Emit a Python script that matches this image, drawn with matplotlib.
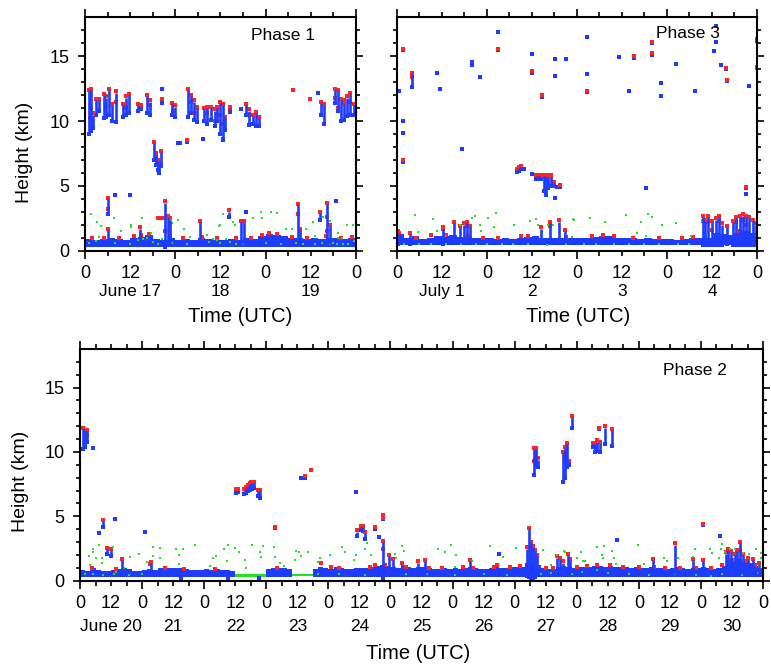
import numpy as np
import matplotlib.pyplot as plt

plt.rcParams['font.family'] = ['Liberation Sans', 'DejaVu Sans']

BLUE = '#1e3cff'
RED = '#ff2424'
GREEN = '#22e022'

# All times are hours from 00 UTC of the first day of each phase, heights in km.

# ---------------- Phase 1 (June 17-19) ----------------
p1_days = ['June 17', '18', '19']
p1_band_base = 0.3
# band top, 2-hour bins
p1_band_top = [0.9, 0.85, 0.9, 1.0, 0.9, 0.85, 1.0, 1.05, 1.2, 0.9, 0.85, 1.0,
               0.85, 0.9, 0.85, 0.95, 0.9, 0.85, 0.85, 0.9, 0.85, 1.0, 0.9, 1.1,
               1.25, 1.2, 1.1, 0.95, 1.0, 0.9, 0.95, 0.9, 1.0, 0.95, 0.9, 0.95]
p1_green_strips = []
# vertical streaks (t, base, top)
p1_cols = [(1.0, 9.0, 12.3), (1.6, 9.2, 12.4), (2.2, 9.5, 10.5), (3.0, 10.5, 11.6),
           (3.8, 10.8, 11.6), (5.0, 10.2, 12.0), (5.6, 10.3, 11.8), (6.3, 10.5, 12.4),
           (7.2, 10.0, 11.2), (8.2, 9.9, 12.2), (10.2, 10.3, 11.2), (11.0, 10.5, 11.8),
           (11.8, 10.6, 12.0), (14.2, 10.8, 11.2), (15.0, 10.9, 11.1), (16.5, 10.6, 11.9),
           (17.2, 10.5, 11.5), (20.5, 11.4, 11.6), (23.0, 10.5, 11.3), (23.8, 10.3, 11.1),
           (27.5, 10.3, 12.4), (28.2, 10.6, 11.9), (29.0, 10.1, 11.5), (29.8, 9.9, 11.0),
           (31.6, 10.0, 10.9), (32.5, 9.8, 11.0), (33.5, 10.1, 11.0), (34.5, 9.6, 10.8),
           (35.2, 10.0, 11.0), (36.0, 9.0, 11.4), (36.6, 8.6, 11.2), (37.2, 9.3, 10.2),
           (38.5, 10.7, 11.0), (42.8, 10.5, 11.2), (43.5, 9.7, 10.8), (44.6, 9.8, 10.4),
           (45.4, 9.6, 10.6), (46.3, 9.6, 10.2), (62.8, 10.5, 11.4), (63.6, 9.8, 11.2),
           (66.5, 11.4, 12.4), (67.3, 10.8, 12.3), (68.0, 10.0, 11.6), (68.8, 10.1, 11.3),
           (69.6, 10.4, 11.8), (70.5, 10.5, 12.1), (71.4, 10.5, 11.2),
           (18.3, 7.0, 8.3), (18.8, 6.6, 7.4), (19.3, 6.2, 6.9), (19.8, 6.0, 6.7), (20.2, 6.5, 7.6),
           (6.0, 2.8, 4.0), (6.0, 0.5, 1.6), (14.6, 0.5, 1.7), (21.3, 0.3, 3.7), (22.0, 0.5, 2.6),
           (22.6, 0.5, 2.4), (30.5, 0.5, 2.2), (38.2, 2.6, 3.0), (41.5, 0.5, 2.2), (42.3, 0.5, 2.2),
           (56.6, 0.45, 3.5), (57.2, 0.5, 1.6), (62.5, 2.4, 2.9), (64.4, 0.5, 3.6), (65.0, 0.5, 1.9)]
p1_blue_dots = [(8.0, 4.3), (12.0, 4.3), (66.7, 3.8), (24.7, 8.3), (25.2, 8.3), (27.0, 8.4),
                (31.3, 8.6), (20.5, 12.5), (41.4, 10.9), (61.9, 12.2), (42.8, 3.0), (36.6, 8.5)]
p1_red_dots = [(1.3, 10.2), (1.6, 11.0), (5.6, 11.9), (8.2, 11.5), (11.0, 11.0), (17.2, 11.2),
               (23.5, 10.8), (28.2, 11.5), (29.0, 10.6), (32.5, 10.6), (34.5, 10.0), (36.0, 10.5),
               (36.6, 9.8), (43.5, 10.5), (66.5, 11.8), (67.3, 11.0), (68.8, 11.6), (70.5, 11.5),
               (18.8, 7.2), (19.8, 6.4), (6.0, 3.2), (21.3, 2.5), (21.3, 1.5), (56.6, 2.8),
               (64.4, 2.6), (64.4, 1.5), (19.5, 2.5), (20.3, 2.5), (55.3, 12.4), (59.8, 11.7),
               (27.0, 8.5), (38.5, 10.9),
               (2, 1.0), (5, 1.0), (9, 1.0), (13, 1.1), (15, 1.2), (17, 1.3), (22.5, 1.1), (26, 1.0),
               (31, 1.05), (35, 0.95), (40, 1.0), (44, 1.0), (47, 1.2), (49, 1.35), (51, 1.3),
               (55, 1.05), (59, 1.0), (64, 1.1), (68, 1.0), (71, 1.05)]
p1_green_dots = [(1.5, 2.8), (3.1, 2.24), (4.2, 1.93), (7.8, 2.5), (9.7, 1.52), (12.1, 2.0),
                 (12.1, 1.8), (15.2, 2.5), (17.5, 1.34), (22.6, 2.36), (24.6, 2.36), (23.1, 2.1),
                 (26.3, 1.65), (32.3, 1.2), (27.8, 1.07), (35.7, 1.9), (3.8, 1.07), (36.7, 2.8),
                 (36.0, 1.95), (39.3, 2.2), (39.9, 2.0), (44.6, 2.5), (46.8, 2.95), (49.5, 2.95),
                 (47.0, 2.5), (51.0, 2.88), (53.5, 1.65), (55.0, 1.65), (58.8, 1.65), (60.6, 2.2),
                 (61.0, 1.15), (63.3, 2.6), (65.0, 2.3), (67.2, 1.4), (67.2, 1.0), (68.2, 1.0),
                 (69.5, 2.0), (71.2, 1.95),
                 (1, 0.6), (3, 0.75), (8, 0.6), (12, 0.55), (14, 0.8), (15.5, 0.9), (16.5, 1.0),
                 (18, 0.7), (19.5, 0.55), (20.5, 0.9), (23, 0.6), (27, 0.55), (33, 0.7), (34, 0.9),
                 (35, 0.8), (36, 0.6), (37.5, 0.9), (38.5, 0.7), (40, 0.55), (42, 0.5), (48, 0.6),
                 (52, 0.5), (56, 0.6), (58, 0.55), (61, 0.5), (63, 0.6), (65, 0.5), (66, 0.6),
                 (67, 0.5), (68.5, 0.55), (70, 0.5), (71.5, 0.75)]

# ---------------- Phase 3 (July 1-4) ----------------
p3_days = ['July 1', '2', '3', '4']
p3_band_base = 0.45
p3_band_top = [1.3, 1.0, 1.1, 0.9, 0.95, 1.15, 1.1, 1.2, 1.05, 1.1, 1.0, 0.95,
               0.95, 0.9, 0.95, 0.9, 1.0, 1.05, 1.1, 1.0, 0.95, 1.0, 1.0, 0.95,
               0.95, 1.0, 1.05, 1.1, 1.1, 1.0, 0.95, 0.95, 0.9, 0.95, 0.9, 0.9,
               0.9, 0.85, 0.9, 0.95, 0.95, 1.0, 1.4, 1.3, 1.2, 1.4, 1.5, 1.4]
p3_green_strips = []
p3_cols = [(0.3, 0.5, 1.4), (3.5, 0.5, 1.3), (12.4, 0.5, 1.7), (15.1, 0.6, 2.1), (16.8, 0.6, 1.8),
           (17.8, 0.6, 2.0), (18.6, 0.6, 2.1), (19.4, 0.6, 1.8), (38.5, 0.6, 1.7), (40.8, 0.6, 2.1),
           (43.1, 0.6, 2.24), (44.8, 0.6, 1.5),
           (81.5, 0.4, 2.6), (82.2, 0.4, 2.3), (83.0, 0.4, 2.6), (84.0, 0.4, 2.2), (85.0, 0.4, 2.4),
           (85.8, 0.4, 2.6), (86.6, 0.4, 2.0), (88.0, 0.5, 1.8), (89.5, 0.4, 2.2), (90.4, 0.4, 2.5),
           (91.4, 0.4, 2.6), (92.2, 0.4, 2.7), (93.0, 0.4, 2.6), (94.0, 0.4, 2.5), (95.0, 0.4, 2.3),
           (95.8, 0.4, 2.0),
           (32.0, 6.05, 6.2), (32.6, 6.15, 6.35), (33.2, 6.3, 6.47), (37.0, 5.5, 5.75),
           (37.8, 5.5, 5.75), (38.5, 5.5, 5.72), (39.2, 4.6, 5.75), (39.8, 4.3, 5.7),
           (40.4, 4.8, 5.7), (41.1, 5.0, 5.7), (41.8, 5.0, 5.2), (4.0, 12.65, 13.6)]
p3_blue_dots = [(0.6, 12.3), (1.6, 15.46), (1.6, 10.0), (1.6, 9.1), (1.6, 6.86), (10.7, 13.7),
                (11.6, 12.5), (17.3, 7.83), (20.0, 14.55), (20.0, 14.35), (22.2, 13.4),
                (26.9, 16.9), (26.9, 15.46), (36.0, 15.2), (36.0, 13.74), (38.7, 11.87),
                (42.2, 14.8), (42.2, 13.46), (45.0, 14.75), (34.0, 6.3), (36.0, 5.9),
                (42.6, 4.93), (43.5, 4.95), (42.2, 4.1),
                (50.6, 16.5), (50.6, 13.6), (50.6, 12.25), (59.2, 14.95), (61.9, 12.3),
                (63.2, 14.9), (66.3, 4.8), (67.9, 16.0), (67.9, 15.13), (70.3, 12.95),
                (70.3, 11.9), (74.3, 14.4), (79.4, 12.3), (84.5, 15.4), (85.2, 17.3),
                (85.2, 16.1), (86.5, 14.36), (87.7, 14.0), (88.1, 13.07), (93.1, 4.8),
                (93.1, 4.4), (94.0, 12.7), (95.9, 16.2), (95.9, 14.1)]
p3_red_dots = [(1.6, 15.56), (1.6, 6.96), (4.0, 13.4), (26.9, 15.56), (36.0, 13.84), (38.7, 11.97),
               (50.6, 12.35), (63.2, 15.0), (67.9, 16.1), (67.9, 15.23), (87.7, 14.1),
               (88.1, 13.17), (93.1, 4.9), (95.9, 16.3), (95.9, 14.2), (43.5, 5.05),
               (37.5, 5.78), (39.0, 5.78), (40.0, 5.78), (41.0, 5.78), (39.8, 5.3),
               (0.5, 1.35), (12.4, 1.7), (18.6, 1.9), (40.8, 1.9), (81.5, 2.3), (83.0, 2.2),
               (85.8, 2.3), (90.4, 2.2), (92.2, 2.4), (93.0, 2.0), (84.0, 1.6), (91.4, 1.5),
               (5, 1.0), (9, 1.2), (13, 1.2), (19, 1.1), (23, 1.0), (27, 1.0), (33, 1.15),
               (35, 1.1), (45, 1.05), (52, 1.1), (55, 1.2), (58, 1.15), (63, 1.0), (70, 0.95),
               (76, 1.0), (79, 1.05)]
p3_green_dots = [(4.7, 2.75), (5.6, 1.47), (9.5, 2.45), (10.7, 1.55), (12.9, 1.17), (16.9, 1.97),
                 (17.8, 1.65), (20.0, 2.5), (20.7, 2.7), (22.2, 2.0), (24.4, 2.55), (26.0, 1.85),
                 (26.5, 2.9), (31.1, 1.97), (35.5, 2.3), (37.1, 2.45), (37.5, 1.97), (38.8, 1.45),
                 (40.4, 1.97), (41.6, 1.95), (46.9, 2.45), (46.8, 1.05), (22.5, 1.5),
                 (47.2, 2.4), (51.6, 2.5), (55.6, 2.25), (61.2, 2.75), (65.2, 2.2), (67.0, 2.85),
                 (67.9, 2.6), (63.9, 1.35), (66.5, 1.15), (70.8, 1.97), (74.3, 2.1), (78.3, 1.15),
                 (81.4, 2.3), (84.2, 1.15), (95.6, 1.15),
                 (2, 0.5), (6, 0.55), (9, 0.5), (13, 0.5), (17, 0.55), (21, 0.5), (24, 0.55),
                 (28, 0.5), (31, 0.5), (35, 0.55), (40, 0.45), (45, 0.5), (50, 0.5), (53, 0.55),
                 (58, 0.5), (62, 0.55), (66, 0.5), (70, 0.55), (75, 0.5), (78, 0.55), (85, 0.5),
                 (95, 0.6)]

# ---------------- Phase 2 (June 20-30) ----------------
p2_days = ['June 20', '21', '22', '23', '24', '25', '26', '27', '28', '29', '30']
p2_band_base = 0.3
nan = np.nan
p2_band_top = [0.8, 0.75, 0.95, 0.8, 0.75, 0.75, 0.8, 0.9, 0.95, 0.9, 0.75, 0.75,
               0.8, 0.9, 0.85, 0.95, 1.0, 0.95, 1.0, 0.95, 0.9, 0.85, 0.85, 0.85,
               0.9, 0.85, 0.9, 0.85, 0.8, 0.75, nan, nan, nan, nan, nan, nan,
               0.9, 0.95, 1.0, 0.95, 0.9, nan, nan, nan, nan, 0.9, 1.05, 0.95,
               0.9, 1.05, 0.95, 0.9, 0.9, 0.95, 1.0, 0.95, 1.05, 1.15, 1.25, 1.15,
               1.05, 0.95, 1.15, 1.05, 0.95, 1.05, 1.05, 0.95, 0.9, 0.9, 0.95, 0.9,
               0.95, 0.9, 1.0, 1.05, 0.95, 0.9, 0.9, 0.95, 1.05, 1.0, 1.0, 1.05,
               1.05, 1.1, 1.35, 1.55, 1.25, 0.95, 0.9, 0.9, 1.05, 1.15, 1.05, 0.95,
               1.05, 1.1, 1.1, 1.15, 1.15, 1.1, 1.15, 1.05, 1.05, 1.05, 1.0, 1.05,
               1.0, 0.95, 1.05, 1.0, 0.95, 0.9, 1.0, 1.05, 0.95, 0.9, 1.0, 0.95,
               1.05, 0.95, 0.9, 0.95, 1.15, 1.55, 1.55, 1.65, 1.45, 1.35, 1.15, 0.95]
# dense green strips (t start, t end, base, top)
p2_green_strips = [(29, 58, 0.38, 0.55), (58, 73, 0.3, 0.5), (81, 90, 0.35, 0.55)]
p2_cols = [(1.0, 10.2, 11.8), (1.8, 10.4, 11.6), (2.8, 10.8, 11.6), (9.0, 4.2, 4.6),
           (10.5, 2.1, 2.45), (11.8, 1.95, 2.4), (16.2, 0.5, 1.6), (27.4, 0.5, 1.35),
           (60.3, 6.85, 7.0), (61.0, 6.9, 7.0), (63.3, 6.75, 7.0), (64.2, 6.85, 7.2),
           (65.0, 6.95, 7.35), (65.8, 7.05, 7.5), (66.6, 7.1, 7.6), (67.4, 7.2, 7.55),
           (68.6, 6.6, 6.95), (69.4, 6.45, 6.95), (87.0, 8.0, 8.05),
           (107.0, 3.5, 3.8), (108.5, 3.9, 4.15), (109.5, 3.85, 4.15), (110.2, 3.2, 3.7),
           (117.0, 0.2, 3.0), (119.5, 0.5, 1.9), (121.0, 0.5, 1.6), (124.6, 0.5, 1.3),
           (130.8, 0.5, 1.4), (133.4, 0.5, 1.5), (150.7, 0.5, 1.5), (161.0, 0.5, 1.1),
           (172.8, 0.4, 2.5), (173.5, 0.3, 4.0), (174.3, 0.0, 2.9), (175.0, 0.0, 2.6),
           (175.8, 0.3, 2.3), (176.5, 0.5, 1.9),
           (175.5, 8.2, 10.2), (176.2, 9.0, 10.2), (177.0, 8.8, 9.4),
           (186.8, 7.7, 9.9), (187.5, 8.0, 10.3), (188.2, 8.8, 10.6), (189.0, 9.0, 9.2),
           (190.0, 11.9, 12.7), (184.5, 0.6, 1.8), (185.5, 0.6, 1.7), (186.5, 0.6, 1.4),
           (188.5, 0.6, 2.0), (189.5, 0.6, 1.6),
           (198.3, 10.4, 10.6), (199.0, 10.0, 10.6), (200.0, 10.1, 10.8), (201.0, 10.0, 10.7),
           (202.9, 10.6, 11.9), (205.8, 10.5, 11.7),
           (221.6, 0.5, 1.6), (229.8, 0.5, 2.8), (237.0, 0.5, 1.6), (240.9, 0.5, 1.5),
           (249.5, 0.5, 2.1), (250.5, 0.5, 2.4), (251.5, 0.5, 2.2), (253.0, 0.5, 2.0),
           (254.0, 0.5, 2.3), (255.0, 0.5, 2.9), (256.3, 0.5, 2.0), (258.0, 0.5, 1.7),
           (260.0, 0.5, 1.6), (262.5, 0.5, 1.3)]
p2_blue_dots = [(5.1, 10.3), (7.5, 3.67), (13.6, 4.83), (25.1, 3.8), (85.5, 7.95), (75.5, 4.1),
                (106.8, 6.9), (113.9, 4.0), (115.6, 3.4), (117.0, 4.8), (162.0, 2.05),
                (200.4, 11.8), (207.5, 3.15), (240.9, 4.3), (247.4, 3.5), (188.0, 9.5),
                (57.0, 0.1), (69.0, 0.2), (39.0, 0.2)]
p2_red_dots = [(2.8, 11.3), (1.8, 11.0), (89.2, 8.58), (75.5, 4.2), (113.9, 4.15), (117.0, 5.1),
               (117.0, 4.85), (117.0, 2.5), (108.5, 4.2), (173.5, 2.6), (174.3, 1.8),
               (175.0, 1.4), (175.5, 9.3), (187.5, 9.6), (200.4, 11.9), (240.9, 4.4),
               (255.0, 2.3), (251.5, 1.6), (66.0, 7.65), (65.0, 7.45),
               (4.5, 0.95), (14, 0.9), (27, 1.3), (33, 1.0), (40, 0.9), (52, 0.9), (76, 1.0),
               (93, 1.35), (97, 1.05), (100, 1.0), (112, 1.1), (114, 1.25), (118, 1.2),
               (126, 1.1), (135, 1.0), (140, 1.0), (148, 1.05), (152, 1.0), (160, 1.1),
               (166, 1.1), (170, 1.15), (180, 0.95), (183, 0.95), (192, 1.1), (196, 1.15),
               (200, 1.2), (205, 1.2), (210, 1.1), (216, 1.05), (222, 1.05), (226, 0.95),
               (232, 1.0), (238, 1.0), (244, 0.95), (248, 1.2), (252, 1.6), (257, 1.5),
               (261, 1.2)]
p2_green_dots = [(3.3, 1.94), (4.9, 2.46), (4.9, 2.2), (3.9, 1.22), (6.2, 1.73), (7.5, 2.77),
                 (8.5, 1.73), (8.5, 1.35), (12.9, 2.64), (13.9, 0.7), (17.1, 0.95), (19.3, 1.84),
                 (22.9, 2.05), (25.8, 1.47), (28.1, 2.64), (28.3, 1.94), (30.9, 2.56),
                 (30.9, 1.79), (37.1, 2.46), (38.4, 1.97), (39.9, 2.46), (38.4, 1.29),
                 (44.6, 2.77), (50.3, 1.16), (51.3, 1.73), (52.5, 1.94), (55.5, 2.46),
                 (57.1, 2.77), (56.9, 1.53), (60.0, 2.56), (61.3, 2.2), (63.9, 1.61), (64.0, 1.02),
                 (66.4, 2.77), (70.7, 2.72), (69.4, 2.2), (69.8, 1.86), (75.0, 2.64),
                 (75.5, 1.86), (77.2, 1.35), (78.9, 1.16), (83.6, 2.3), (84.7, 2.25), (85.3, 1.94),
                 (88.1, 2.2), (83.0, 1.61), (92.6, 1.79), (92.0, 1.42), (96.5, 1.97),
                 (101.3, 2.59), (102.4, 2.2), (105.9, 1.61), (106.8, 1.97), (110.3, 2.43),
                 (110.8, 2.9), (112.6, 1.97), (121.6, 2.1), (122.3, 1.79), (124.6, 2.69),
                 (125.2, 2.3), (138.5, 2.46), (141.1, 2.25), (143.4, 2.77), (145.2, 1.97),
                 (144.8, 1.08), (151.4, 1.53), (158.5, 2.67), (163.6, 1.86), (168.5, 2.56),
                 (179.1, 2.38), (181.9, 1.22), (184.3, 2.0), (187.1, 2.3), (187.6, 2.2),
                 (192.2, 1.79), (193.5, 2.2), (194.3, 1.53), (195.2, 1.53), (177.2, 1.02),
                 (200.0, 2.64), (202.6, 2.69), (201.7, 1.97), (202.3, 1.79), (205.5, 2.3),
                 (206.2, 1.79), (207.2, 1.27), (215.8, 2.77), (217.8, 1.27), (225.7, 1.79),
                 (227.0, 1.53), (231.3, 1.73), (237.7, 2.46), (237.1, 1.86), (243.5, 2.46),
                 (244.2, 2.12), (248.0, 2.82), (247.6, 2.46), (249.3, 2.2), (247.1, 1.79),
                 (251.3, 2.46), (253.2, 2.46), (256.4, 2.12), (258.7, 2.05), (261.3, 2.46),
                 (263.1, 2.12), (263.1, 1.79), (262.3, 1.22),
                 (2, 0.55), (5, 0.5), (9, 0.45), (13, 0.5), (19, 0.45), (24, 0.5), (92, 0.55),
                 (100, 0.5), (110, 0.45), (126, 0.55), (134, 0.5), (145, 0.45), (156, 0.5),
                 (165, 0.45), (178, 0.5), (182, 0.6), (190, 0.5), (194, 0.7), (200, 0.8),
                 (204, 0.6), (212, 0.5), (220, 0.45), (230, 0.5), (238, 0.45), (244, 0.4),
                 (248, 0.5), (256, 0.45), (262, 0.6)]


def pts(lst):
    a = np.array(lst, dtype=float).reshape(-1, 2)
    return a[:, 0], a[:, 1]


def draw_panel(ax, days, band_top, band_base, strips, cols, blue_dots, red_dots,
               green_dots, phase, ylabels=True):
    nh = 24 * len(days)
    ms = 5.5
    for t0, t1, lo, hi in strips:
        ax.bar(t0, hi - lo, width=t1 - t0, bottom=lo, align='edge', color=GREEN, lw=0)
    top = np.array(band_top, dtype=float)
    tb = np.arange(len(top)) * 2.0
    ok = ~np.isnan(top)
    ax.bar(tb[ok], top[ok] - band_base, width=2.0, bottom=band_base, align='edge',
           color=BLUE, lw=0)
    c = np.array(cols, dtype=float)
    ax.vlines(c[:, 0], c[:, 1], c[:, 2], color=BLUE, lw=1.9)
    ax.scatter(c[:, 0], c[:, 1], s=ms, marker='s', c=BLUE, lw=0)
    x, y = pts(blue_dots)
    ax.scatter(x, y, s=ms, marker='s', c=BLUE, lw=0)
    ax.scatter(c[:, 0], c[:, 2] + 0.1, s=ms, marker='s', c=RED, lw=0)
    x, y = pts(red_dots)
    ax.scatter(x, y, s=ms, marker='s', c=RED, lw=0)
    x, y = pts(green_dots)
    ax.scatter(x, y, s=4.0, marker='s', c=GREEN, lw=0)

    ax.set_xlim(0, nh)
    ax.set_ylim(0, 18)
    major = np.arange(0, nh + 1, 24)
    minor = np.arange(6, nh, 6)
    minor = minor[minor % 24 != 0]
    ax.set_xticks(major, ['0'] * len(major))
    ax.set_xticks(minor, ['12' if m % 24 == 12 else '' for m in minor], minor=True)
    ax.set_yticks([0, 5, 10, 15])
    ax.set_yticks(np.arange(1, 18), minor=True)
    ax.tick_params(which='both', direction='out', top=True, right=True, width=1.2,
                   labelsize=13, labelleft=ylabels)
    ax.tick_params(axis='x', which='major', length=6, pad=4)
    ax.tick_params(axis='x', which='minor', length=3.5, pad=6.5)
    ax.tick_params(axis='y', which='major', length=5, pad=6)
    ax.tick_params(axis='y', which='minor', length=3)
    for sp in ax.spines.values():
        sp.set_linewidth(1.5)
    ax.text(0.0, 0.0, phase, transform=ax.transAxes, fontsize=12.5)
    return nh


fig = plt.figure(figsize=(7.71, 6.71), dpi=100)
ax1 = fig.add_axes([0.1102, 0.6264, 0.3515, 0.3478])
ax3 = fig.add_axes([0.5149, 0.6264, 0.4669, 0.3478])
ax2 = fig.add_axes([0.1038, 0.1346, 0.8859, 0.3453])

panels = [
    (ax1, p1_days, p1_band_top, p1_band_base, p1_green_strips, p1_cols, p1_blue_dots,
     p1_red_dots, p1_green_dots, 'Phase 1', True, (0.729, 0.924), -0.175, (0.571, -0.28)),
    (ax3, p3_days, p3_band_top, p3_band_base, p3_green_strips, p3_cols, p3_blue_dots,
     p3_red_dots, p3_green_dots, 'Phase 3', False, (0.809, 0.931), -0.175, (0.503, -0.28)),
    (ax2, p2_days, p2_band_top, p2_band_base, p2_green_strips, p2_cols, p2_blue_dots,
     p2_red_dots, p2_green_dots, 'Phase 2', True, (0.9, 0.909), -0.198, (0.495, -0.316)),
]

for (ax, days, top, base, strips, cols, bd, rd, gd, name, yl, ppos, dy, tpos) in panels:
    nh = draw_panel(ax, days, top, base, strips, cols, bd, rd, gd, name, yl)
    ax.texts[-1].set_position(ppos)
    ax.texts[-1].set_ha('center')
    ax.texts[-1].set_va('center')
    for i, d in enumerate(days):
        ax.text(24 * i + 12, dy, d, transform=ax.get_xaxis_transform(), ha='center',
                va='center', fontsize=12.5)
    ax.text(tpos[0], tpos[1], 'Time (UTC)', transform=ax.transAxes, ha='center',
            va='center', fontsize=14.5)

ax1.set_ylabel('Height (km)', fontsize=14)
ax1.yaxis.set_label_coords(-0.19, 0.42)
ax2.set_ylabel('Height (km)', fontsize=14)
ax2.yaxis.set_label_coords(-0.075, 0.427)

fig.savefig('out.png', dpi=100)
